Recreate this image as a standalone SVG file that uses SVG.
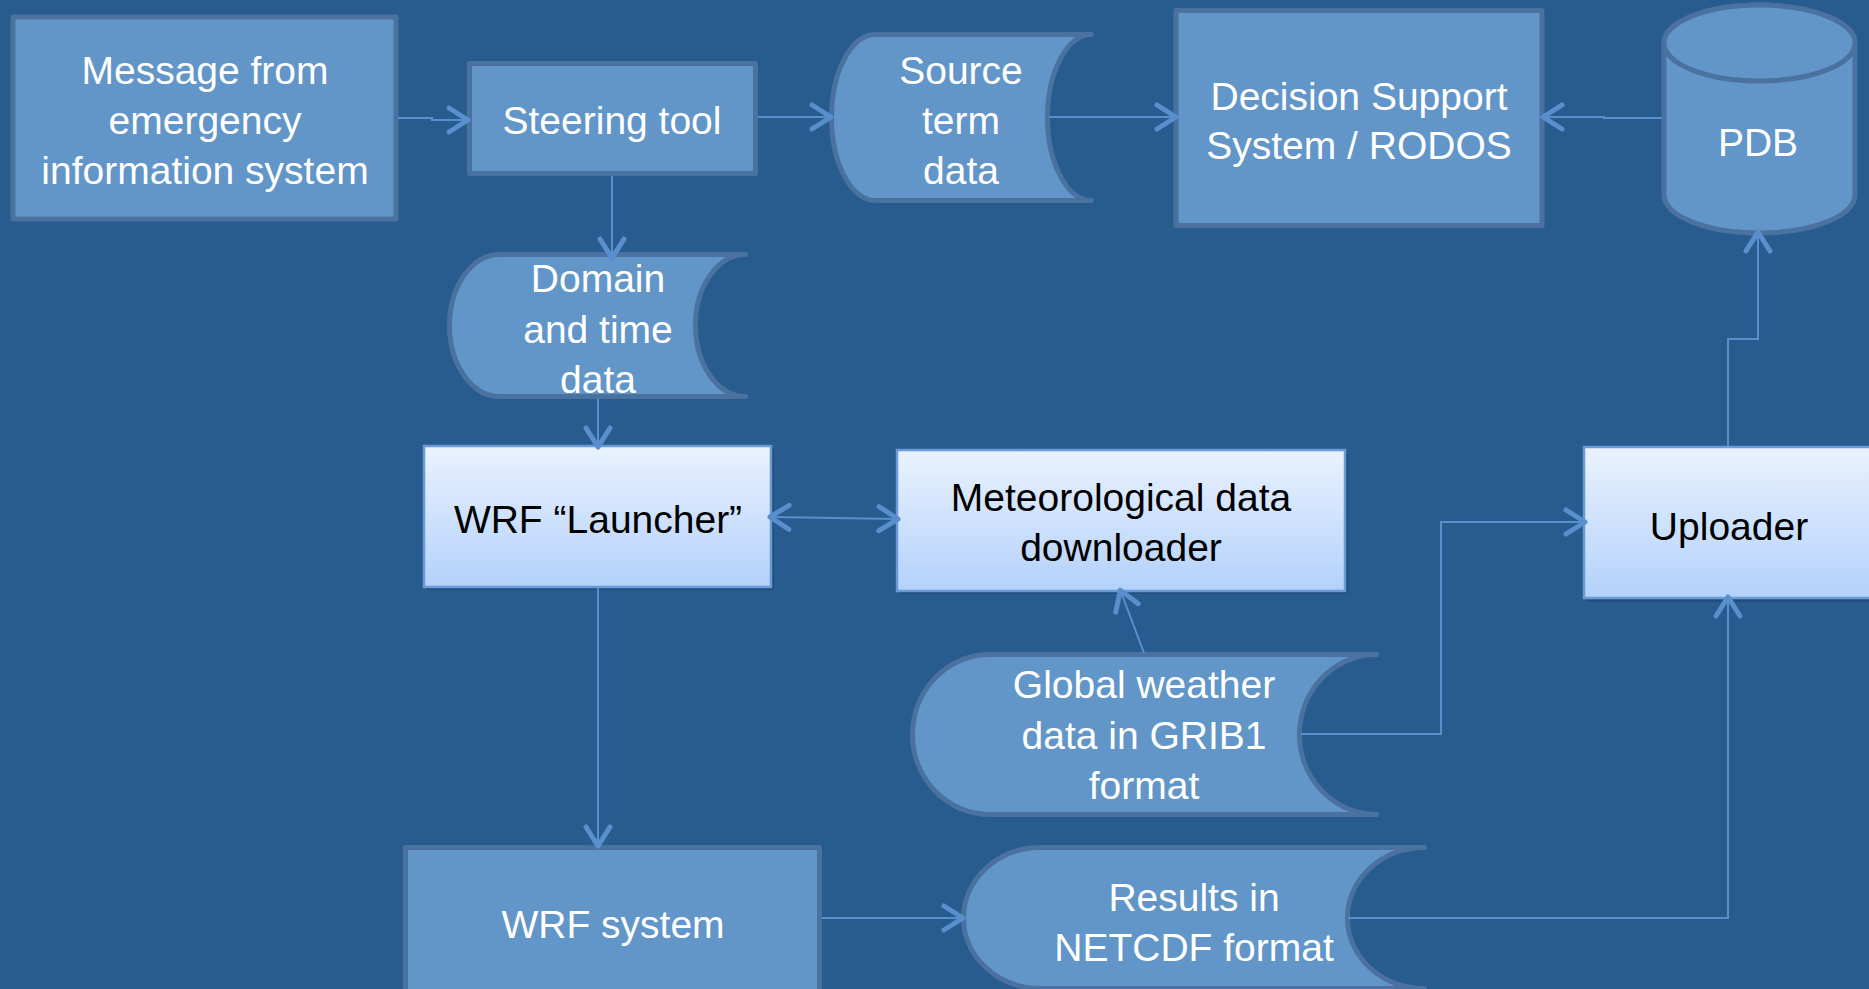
<svg xmlns="http://www.w3.org/2000/svg" width="1869" height="989" viewBox="0 0 1869 989">
  <defs>
    <linearGradient id="lightGrad" x1="0" y1="0" x2="0" y2="1">
      <stop offset="0" stop-color="#eaf2fe"/>
      <stop offset="1" stop-color="#b3d1fb"/>
    </linearGradient>
    <marker id="arrow" markerUnits="userSpaceOnUse" markerWidth="40" markerHeight="40" viewBox="-30 -20 40 40" refX="-2" refY="0" orient="auto-start-reverse">
      <path d="M-19,-12 L0,0 L-19,12" fill="none" stroke="#5a8fce" stroke-width="5" stroke-linecap="round" stroke-linejoin="round"/>
    </marker>
    <style>
      .dark { fill: #6296c8; stroke: #4a71a0; stroke-width: 5; stroke-linejoin: round; stroke-linecap: round; }
      .light { fill: url(#lightGrad); stroke: #6a9bd6; stroke-width: 2.5; }
      .shadow { fill: #1d4470; opacity: 0.55; }
      .wt { font-family: "Liberation Sans", Arial, sans-serif; font-size: 39px; fill: #ffffff; text-anchor: middle; }
      .bt { font-family: "Liberation Sans", Arial, sans-serif; font-size: 39px; fill: #000000; text-anchor: middle; }
      .conn { fill: none; stroke: #5a8fce; stroke-width: 2; }
    </style>
  </defs>
  <rect x="0" y="0" width="1869" height="989" fill="#285b8e"/>

  <g id="message">
    <rect class="dark" x="13" y="17" width="383" height="202"/>
    <text class="wt" x="205" y="84">Message from</text>
    <text class="wt" x="205" y="134">emergency</text>
    <text class="wt" x="205" y="184">information system</text>
  </g>

  <g id="steering">
    <rect class="dark" x="469.5" y="63.5" width="286" height="110"/>
    <text class="wt" x="612" y="134">Steering tool</text>
  </g>

  <g id="source">
    <path class="dark" d="M875.5,34.5 L1091.5,34.5 A44,83 0 0 0 1091.5,200.5 L875.5,200.5 A44,83 0 0 1 875.5,34.5 Z"/>
    <text class="wt" x="961" y="84">Source</text>
    <text class="wt" x="961" y="134">term</text>
    <text class="wt" x="961" y="184">data</text>
  </g>

  <g id="dss">
    <rect class="dark" x="1176" y="10.5" width="366" height="215"/>
    <text class="wt" x="1359" y="110">Decision Support</text>
    <text class="wt" x="1359" y="159">System / RODOS</text>
  </g>

  <g id="pdb">
    <path class="dark" d="M1664,43 A95.5,38 0 0 1 1855,43 L1855,195 A95.5,38 0 0 1 1664,195 Z"/>
    <ellipse class="dark" cx="1759.5" cy="43" rx="95.5" ry="38"/>
    <text class="wt" x="1758" y="156">PDB</text>
  </g>

  <g id="domain">
    <path class="dark" d="M499.5,254.5 L745.5,254.5 A50,71 0 0 0 745.5,396.5 L499.5,396.5 A50,71 0 0 1 499.5,254.5 Z"/>
    <text class="wt" x="598" y="292">Domain</text>
    <text class="wt" x="598" y="343">and time</text>
    <text class="wt" x="598" y="393">data</text>
  </g>

  <g id="launcher">
    <rect class="shadow" x="427" y="449" width="347" height="141"/>
    <rect class="light" x="424" y="446" width="347" height="141"/>
    <text class="bt" x="598" y="533">WRF “Launcher”</text>
  </g>

  <g id="meteo">
    <rect class="shadow" x="900" y="453" width="448" height="141"/>
    <rect class="light" x="897" y="450" width="448" height="141"/>
    <text class="bt" x="1121" y="511">Meteorological data</text>
    <text class="bt" x="1121" y="561">downloader</text>
  </g>

  <g id="uploader">
    <rect class="shadow" x="1587" y="450" width="300" height="152"/>
    <rect class="light" x="1584" y="447" width="300" height="151"/>
    <text class="bt" x="1729" y="540">Uploader</text>
  </g>

  <g id="global">
    <path class="dark" d="M989.5,654.5 L1376.5,654.5 A77,80 0 0 0 1376.5,814.5 L989.5,814.5 A77,80 0 0 1 989.5,654.5 Z"/>
    <text class="wt" x="1144" y="698">Global weather</text>
    <text class="wt" x="1144" y="749">data in GRIB1</text>
    <text class="wt" x="1144" y="799">format</text>
  </g>

  <g id="wrfsystem">
    <rect class="dark" x="405.5" y="847.5" width="414" height="170"/>
    <text class="wt" x="613" y="938">WRF system</text>
  </g>

  <g id="results">
    <path class="dark" d="M1040.5,847.5 L1424.5,847.5 A77,70.5 0 0 0 1424.5,988.5 L1040.5,988.5 A77,70.5 0 0 1 1040.5,847.5 Z"/>
    <text class="wt" x="1194" y="911">Results in</text>
    <text class="wt" x="1194" y="961">NETCDF format</text>
  </g>

  <g id="connectors">
    <path class="conn" d="M398,118 L432,118 L432,120 L466,120" marker-end="url(#arrow)"/>
    <path class="conn" d="M758,117 L829,117" marker-end="url(#arrow)"/>
    <path class="conn" d="M612,176 L612,256" marker-end="url(#arrow)"/>
    <path class="conn" d="M1049,117 L1174,117" marker-end="url(#arrow)"/>
    <path class="conn" d="M1662,118 L1604,118 L1604,117 L1545,117" marker-end="url(#arrow)"/>
    <path class="conn" d="M598,399 L598,445" marker-end="url(#arrow)"/>
    <path class="conn" d="M772,517 L896,519" marker-start="url(#arrow)" marker-end="url(#arrow)"/>
    <path class="conn" d="M1144,653 L1121,592" marker-end="url(#arrow)"/>
    <path class="conn" d="M598,588 L598,844" marker-end="url(#arrow)"/>
    <path class="conn" d="M822,918 L961,918" marker-end="url(#arrow)"/>
    <path class="conn" d="M1301,734 L1441,734 L1441,522 L1583,522" marker-end="url(#arrow)"/>
    <path class="conn" d="M1348,918 L1728,918 L1728,599" marker-end="url(#arrow)"/>
    <path class="conn" d="M1728,446 L1728,339 L1758,339 L1758,234" marker-end="url(#arrow)"/>
  </g>
</svg>
